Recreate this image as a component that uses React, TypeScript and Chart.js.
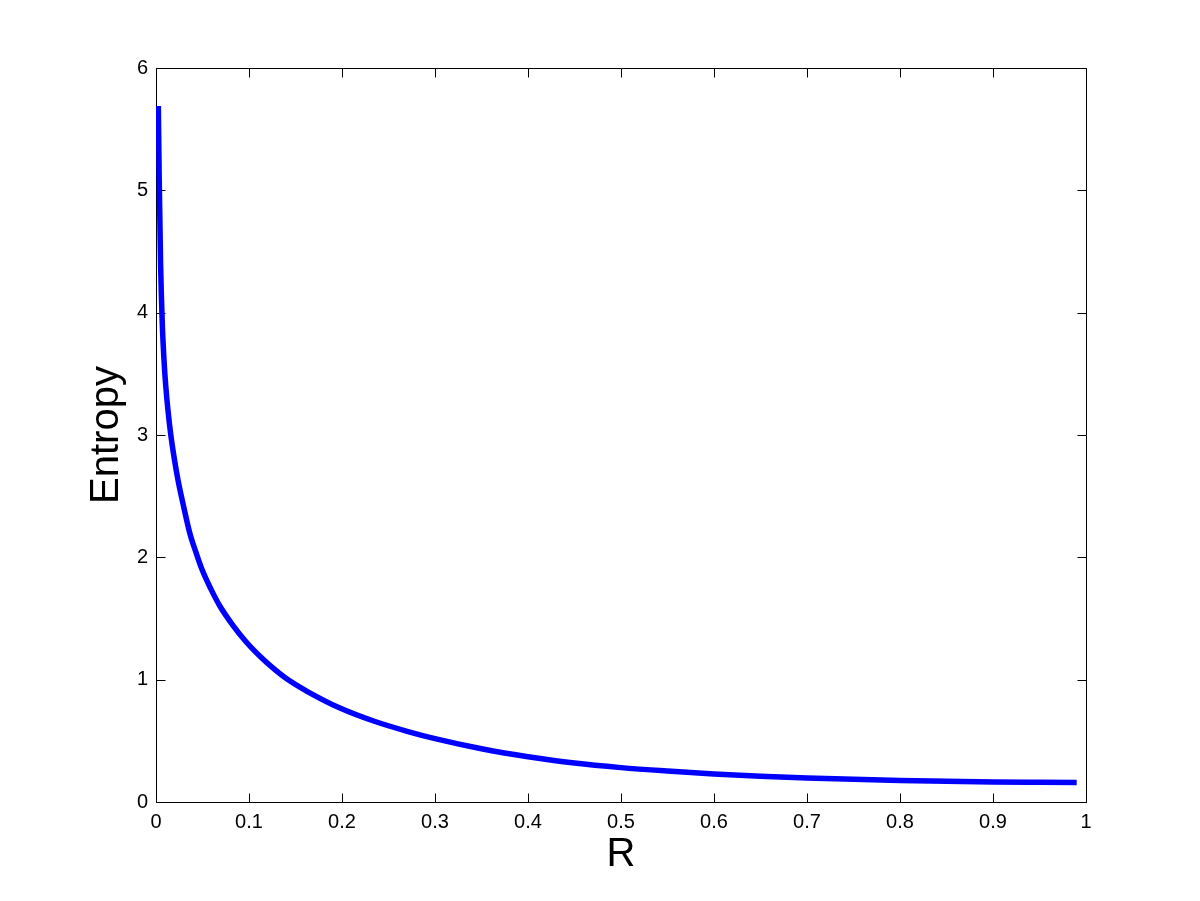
import { useEffect, useRef } from "react";
import { Chart, registerables } from "chart.js";

Chart.register(...registerables);

const rValues = [
  0.0025, 0.0035, 0.0049, 0.0067, 0.0087, 0.0104, 0.0129, 0.0156, 0.0194, 0.0237,
  0.029, 0.0366, 0.043, 0.0495, 0.0591, 0.0688, 0.0817, 0.0968, 0.1129, 0.1269,
  0.1409, 0.1624, 0.1978, 0.234, 0.27, 0.3, 0.35, 0.4, 0.45, 0.5,
  0.55, 0.6, 0.65, 0.7, 0.75, 0.8, 0.85, 0.9, 0.95, 0.99,
];
const entropyValues = [
  5.69, 5.07, 4.41, 3.92, 3.6, 3.41, 3.2, 3.02, 2.82, 2.63,
  2.44, 2.19, 2.04, 1.9, 1.74, 1.6, 1.455, 1.31, 1.183, 1.088,
  1.005, 0.905, 0.768, 0.662, 0.578, 0.518, 0.435, 0.37, 0.318, 0.281,
  0.253, 0.229, 0.211, 0.196, 0.185, 0.176, 0.169, 0.164, 0.161, 0.159,
];
const xTickValues = [0, 0.1, 0.2, 0.3, 0.4, 0.5, 0.6, 0.7, 0.8, 0.9, 1];
const xTickLabels = ["0", "0.1", "0.2", "0.3", "0.4", "0.5", "0.6", "0.7", "0.8", "0.9", "1"];
const yTickValues = [0, 1, 2, 3, 4, 5, 6];
const yTickLabels = ["0", "1", "2", "3", "4", "5", "6"];
const xTitle = "R";
const yTitle = "Entropy";

const FONT = "'Liberation Sans', Arial, Helvetica, sans-serif";

export default function App() {
  const ref = useRef<HTMLCanvasElement>(null);

  useEffect(() => {
    document.body.style.margin = "0";
    const canvas = ref.current;
    if (!canvas) return;

    const boxPlugin = {
      id: "matlabBox",
      beforeDatasetsDraw(chart: any) {
        const { ctx, chartArea: a, scales } = chart;
        const xs = scales.x;
        const ys = scales.y;
        const L = Math.round(a.left) + 0.5;
        const R = Math.round(a.right) + 0.5;
        const T = Math.round(a.top) + 0.5;
        const B = Math.round(a.bottom) + 0.5;
        const tl = 9;
        ctx.save();
        ctx.strokeStyle = "#000";
        ctx.lineWidth = 1;
        ctx.beginPath();
        ctx.moveTo(L, T);
        ctx.lineTo(R, T);
        ctx.lineTo(R, B);
        ctx.lineTo(L, B);
        ctx.closePath();
        for (const v of xTickValues) {
          const px = Math.round(xs.getPixelForValue(v)) + 0.5;
          ctx.moveTo(px, B);
          ctx.lineTo(px, B - tl);
          ctx.moveTo(px, T);
          ctx.lineTo(px, T + tl);
        }
        for (const v of yTickValues) {
          const py = Math.round(ys.getPixelForValue(v)) + 0.5;
          ctx.moveTo(L, py);
          ctx.lineTo(L + tl, py);
          ctx.moveTo(R, py);
          ctx.lineTo(R - tl, py);
        }
        ctx.stroke();
        ctx.restore();
      },
    };

    const chart = new Chart(canvas, {
      type: "line",
      data: {
        datasets: [
          {
            data: rValues.map((r, i) => ({ x: r, y: entropyValues[i] })),
            borderColor: "#0000ff",
            backgroundColor: "#0000ff",
            borderWidth: 5.5,
            pointRadius: 0,
            cubicInterpolationMode: "monotone",
            fill: false,
          },
        ],
      },
      options: {
        responsive: false,
        animation: false,
        layout: { padding: { top: 68, right: 114, bottom: 0, left: 0 } },
        plugins: {
          legend: { display: false },
          tooltip: { enabled: false },
        },
        scales: {
          x: {
            type: "linear",
            min: 0,
            max: 1,
            afterFit: (s: any) => {
              s.height = 99;
            },
            afterBuildTicks: (s: any) => {
              s.ticks = xTickValues.map((v) => ({ value: v }));
            },
            grid: { display: false, drawTicks: false },
            border: { display: false },
            ticks: {
              autoSkip: false,
              maxRotation: 0,
              padding: 8,
              color: "#000",
              font: { family: FONT, size: 20 },
              callback: (_v: any, i: number) => xTickLabels[i],
            },
            title: {
              display: true,
              text: xTitle,
              color: "#000",
              font: { family: FONT, size: 40, lineHeight: 1 },
              padding: { top: 0, bottom: 26 },
            },
          },
          y: {
            type: "linear",
            min: 0,
            max: 6,
            afterFit: (s: any) => {
              s.width = 156;
            },
            afterBuildTicks: (s: any) => {
              s.ticks = yTickValues.map((v) => ({ value: v }));
            },
            grid: { display: false, drawTicks: false },
            border: { display: false },
            ticks: {
              autoSkip: false,
              padding: 8,
              color: "#000",
              font: { family: FONT, size: 20 },
              callback: (_v: any, i: number) => yTickLabels[i],
            },
            title: {
              display: true,
              text: yTitle,
              color: "#000",
              font: { family: FONT, size: 40, lineHeight: 1 },
              padding: { top: 87, bottom: 0 },
            },
          },
        },
      },
      plugins: [boxPlugin],
    } as any);

    return () => chart.destroy();
  }, []);

  return (
    <div style={{ position: "fixed", left: 0, top: 0, width: 1200, height: 901, background: "#fff" }}>
      <canvas ref={ref} width={1200} height={901} style={{ display: "block", width: 1200, height: 901 }} />
    </div>
  );
}
